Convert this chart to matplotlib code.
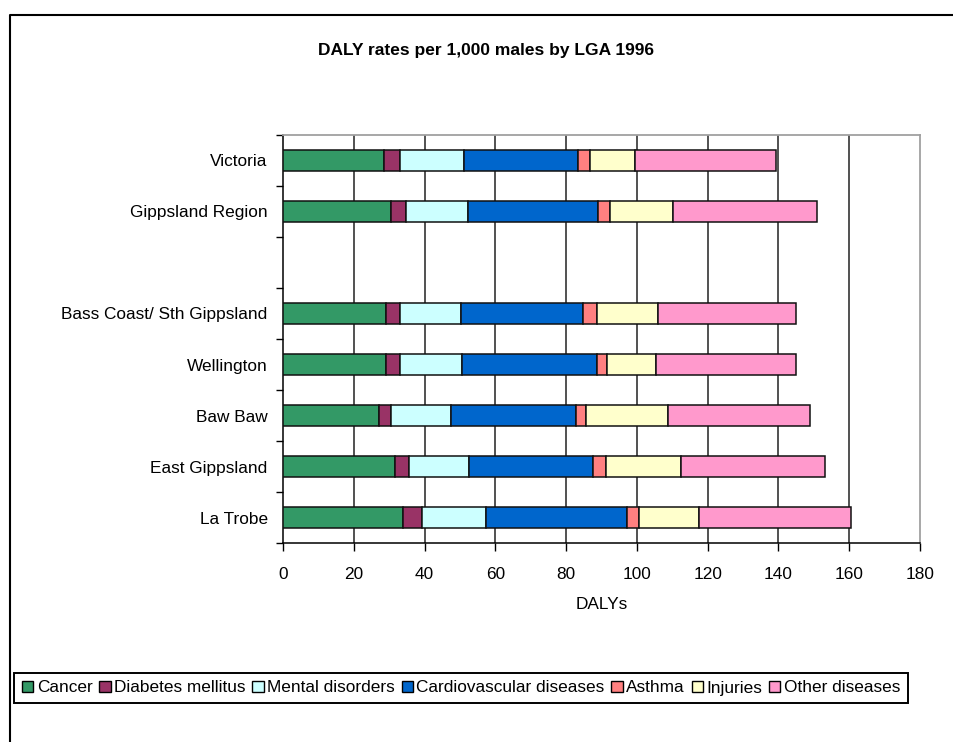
import numpy as np
import matplotlib.pyplot as plt
from matplotlib.lines import Line2D
from matplotlib.patches import Patch

# regions top to bottom; the blank entry leaves a gap after the regional totals
regions = ['Victoria', 'Gippsland Region', '', 'Bass Coast/ Sth Gippsland',
           'Wellington', 'Baw Baw', 'East Gippsland', 'La Trobe']

causes = ['Cancer', 'Diabetes mellitus', 'Mental disorders', 'Cardiovascular diseases',
          'Asthma', 'Injuries', 'Other diseases']

cancer = [28.6, 30.5, np.nan, 29.0, 29.0, 27.1, 31.7, 33.8]
diabetes = [4.4, 4.2, np.nan, 4.2, 4.2, 3.5, 3.8, 5.5]
mental = [18.2, 17.7, np.nan, 17.0, 17.3, 17.0, 17.2, 18.2]
cardio = [32.2, 36.7, np.nan, 34.7, 38.1, 35.1, 34.9, 39.7]
asthma = [3.4, 3.3, np.nan, 3.7, 3.0, 3.0, 3.7, 3.4]
injuries = [12.7, 17.9, np.nan, 17.3, 13.9, 23.2, 21.3, 16.9]
other = [39.9, 40.7, np.nan, 39.0, 39.4, 39.9, 40.6, 43.1]

colors = ['#339966', '#993366', '#CCFFFF', '#0066CC', '#FF8080', '#FFFFCC', '#FF99CC']
xticks = [0, 20, 40, 60, 80, 100, 120, 140, 160, 180]

plt.rcParams['font.family'] = ['Liberation Sans', 'DejaVu Sans']
FS = 12.4

fig = plt.figure(figsize=(9.54, 7.42), dpi=100)
ax = fig.add_axes([283 / 954, 1 - 543 / 742, 637 / 954, 408 / 742])

series = np.array([cancer, diabetes, mental, cardio, asthma, injuries, other])
ypos = np.arange(len(regions))
left = np.zeros(len(regions))
for vals, name, col in zip(series, causes, colors):
    ax.barh(ypos, vals, left=left, height=0.42, color=col,
            edgecolor='#111111', linewidth=1.1, label=name, zorder=3)
    left = left + np.nan_to_num(vals)

ax.set_xlim(0, 180)
ax.set_ylim(len(regions) - 0.5, -0.5)

# vertical gridlines between the plot border lines
ax.vlines(xticks[1:-1], -0.5, len(regions) - 0.5, colors='#222222',
          linewidth=1.1, zorder=1)

ax.set_xticks(xticks)
ax.set_xticklabels([str(t) for t in xticks], fontsize=FS)
ax.tick_params(axis='x', direction='out', length=6, width=1, pad=11, colors='black')

ax.set_yticks(ypos)
ax.set_yticklabels(regions, fontsize=FS)
ax.tick_params(axis='y', which='major', length=0, pad=11)
ax.set_yticks(np.arange(len(regions) + 1) - 0.5, minor=True)
ax.tick_params(axis='y', which='minor', direction='out', length=5, width=1)

ax.set_xlabel('DALYs', fontsize=FS, labelpad=11)

for side in ['left', 'bottom']:
    ax.spines[side].set_color('black')
    ax.spines[side].set_linewidth(1.1)
for side in ['top', 'right']:
    ax.spines[side].set_color('#A0A0A0')
    ax.spines[side].set_linewidth(1.3)

fig.text(486 / 954, 1 - 50 / 742, 'DALY rates per 1,000 males by LGA 1996',
         ha='center', va='center', fontsize=12.5, fontweight='bold')

handles = [Patch(facecolor=c, edgecolor='black', linewidth=1) for c in colors]
leg = fig.legend(handles, causes, loc='center', bbox_to_anchor=(461 / 954, 1 - 688 / 742),
                 ncol=7, fontsize=FS, frameon=True, fancybox=False, framealpha=1,
                 edgecolor='black', handlelength=0.65, handleheight=0.65,
                 handletextpad=0.2, columnspacing=0.4, borderpad=0.45)
leg.get_frame().set_linewidth(1.4)

# outer chart border (left and top edges)
fig.add_artist(Line2D([10 / 954, 10 / 954, 1.0], [0.0, 1 - 15 / 742, 1 - 15 / 742],
                      transform=fig.transFigure, color='black', linewidth=1.5))

fig.savefig('out.png', dpi=100)
